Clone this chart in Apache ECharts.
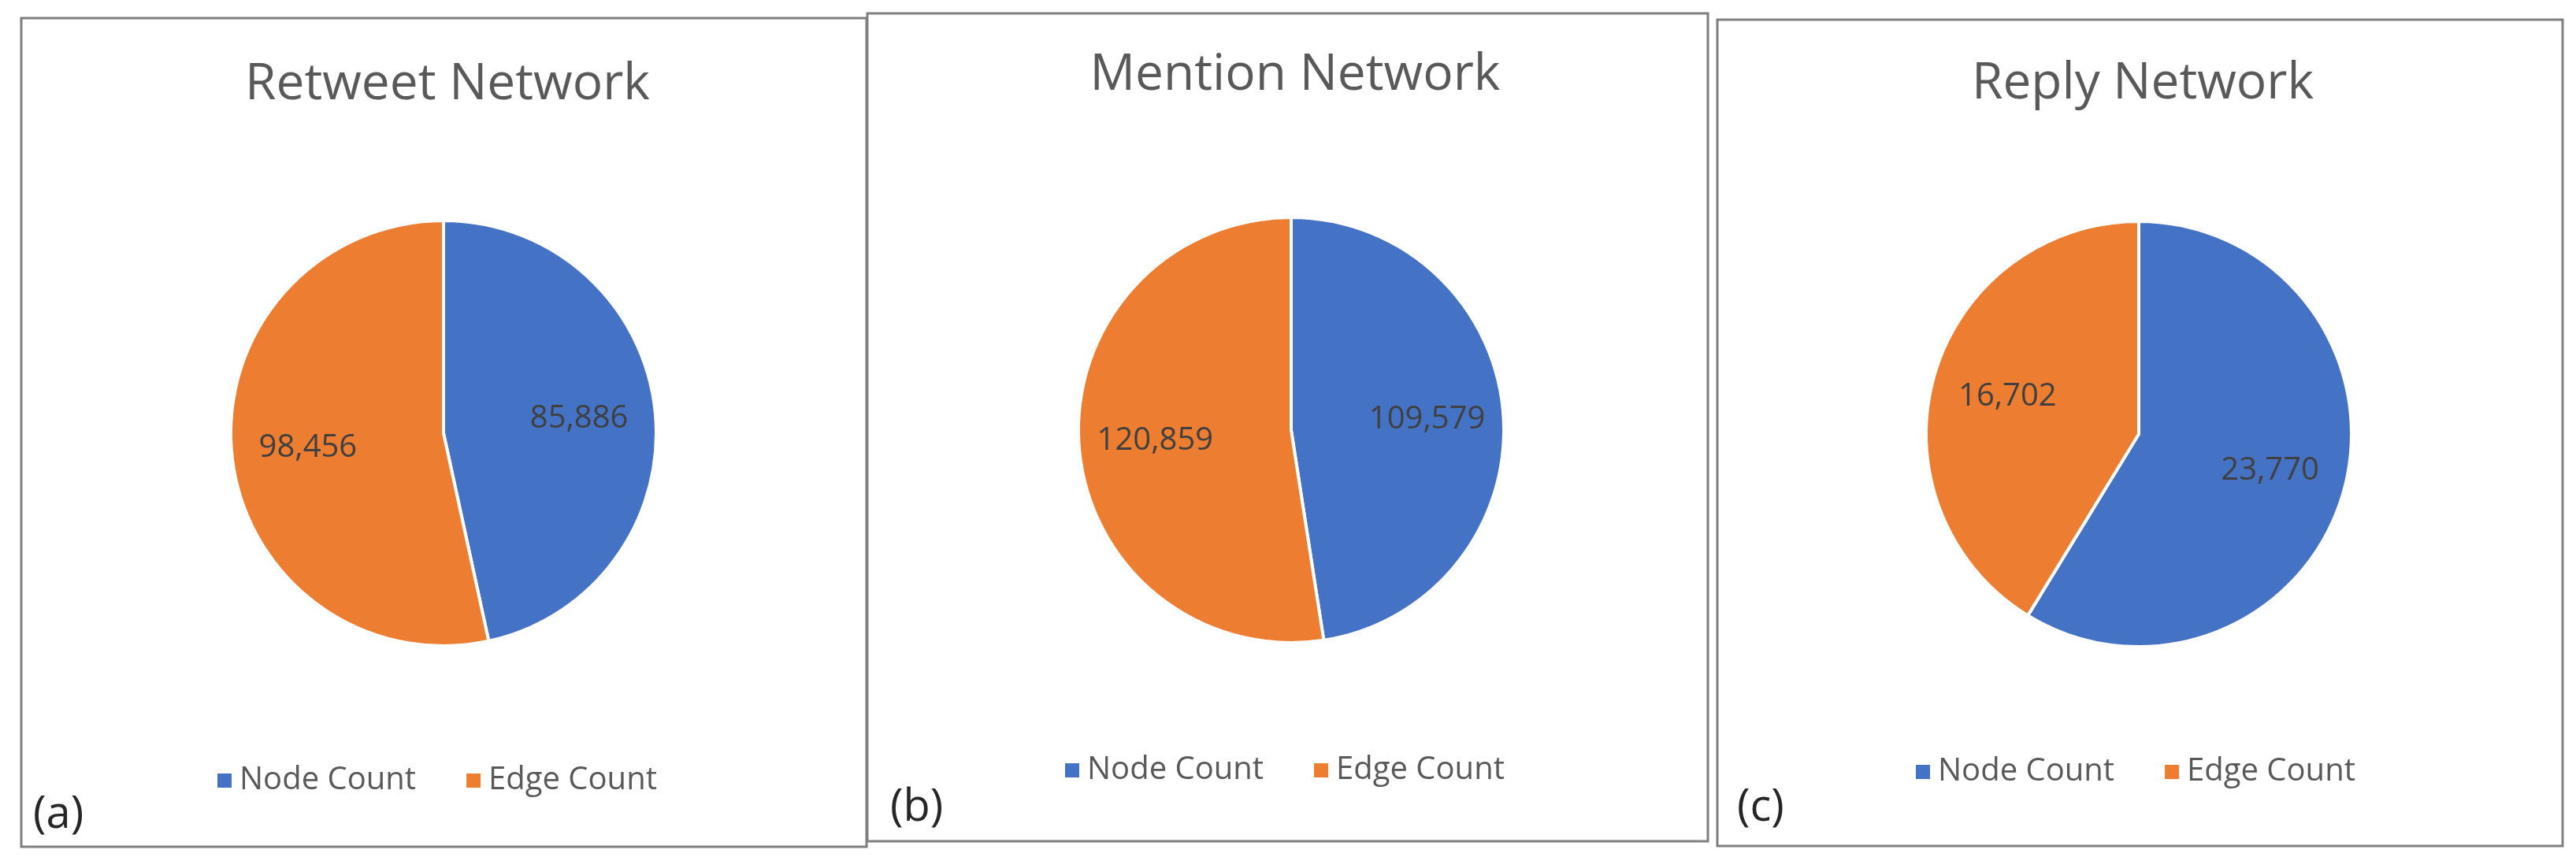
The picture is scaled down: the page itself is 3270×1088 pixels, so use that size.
<!DOCTYPE html>
<html><head><meta charset="utf-8">
<script src="https://cdn.jsdelivr.net/npm/echarts@6/dist/echarts.min.js"></script>
<style>html,body{margin:0;padding:0;background:#fff}#c{width:3270px;height:1088px}</style>
</head><body><div id="c"></div>
<script>
const titles = ['Retweet Network','Mention Network','Reply Network'];
const panelLabels = ['(a)','(b)','(c)'];
const categories = ['Node Count','Edge Count'];
const nodeCounts = [85886, 109579, 23770];
const edgeCounts = [98456, 120859, 16702];

const centers = [[563,550],[1639,546],[2715,551]];
const radius = 270;
const titleY = [116,104,115];
const legendX = [269,1345,2425];
const legendY = [991,978,980];
const boxes = [[27,23,1073,1052],[1101,17,1067,1051],[2180,25,1073,1049]];
const labelPos = [[42,1035],[1130,1026],[2205,1026]];
const colors = ['#4472C4','#ED7D31'];
const FONT = 'Open Sans';

const chart = echarts.init(document.getElementById('c'));
const series = [], title = [], legend = [], graphic = [];
for (let i = 0; i < 3; i++) {
  const data = categories.map((n, k) => ({name: n, value: k === 0 ? nodeCounts[i] : edgeCounts[i]}));
  series.push({
    type: 'pie', center: centers[i], radius: radius, startAngle: 90, clockwise: true,
    silent: true, animation: false,
    itemStyle: {borderColor: '#fff', borderWidth: 4},
    label: {show: false}, labelLine: {show: false}, data: data
  });
  series.push({
    type: 'pie', center: centers[i], radius: [radius * 0.26, radius], startAngle: 90, clockwise: true,
    silent: true, animation: false, legendHoverLink: false,
    itemStyle: {color: 'rgba(0,0,0,0)'},
    label: {show: true, position: 'inside', formatter: p => p.value.toLocaleString('en-US'),
      fontFamily: FONT, fontSize: 40, color: '#404040'},
    labelLine: {show: false}, data: data
  });
  title.push({text: titles[i], left: centers[i][0], top: titleY[i] - 45, textAlign: 'center',
    textStyle: {fontFamily: FONT, fontSize: 64, fontWeight: 'normal', color: '#595959'}});
  legend.push({data: categories, left: legendX[i], top: legendY[i] - 25, orient: 'horizontal',
    icon: 'rect', itemWidth: 20, itemHeight: 20, itemGap: 62, selectedMode: false,
    textStyle: {fontFamily: FONT, fontSize: 40, color: '#595959', padding: [0,0,0,4]}});
  const b = boxes[i];
  graphic.push({type: 'rect', shape: {x: b[0], y: b[1], width: b[2], height: b[3]},
    style: {fill: 'none', stroke: '#7f7f7f', lineWidth: 3}, silent: true});
  graphic.push({type: 'text', x: labelPos[i][0], y: labelPos[i][1],
    style: {text: panelLabels[i], font: '56px "' + FONT + '"', fill: '#262626', textVerticalAlign: 'middle'}});
}
chart.setOption({color: colors, animation: false, title, legend, series, graphic});
</script></body></html>
